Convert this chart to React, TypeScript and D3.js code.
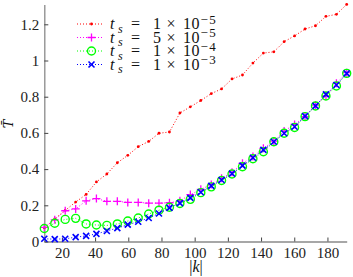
import React, { useRef, useEffect } from 'react';
import * as d3 from 'd3';

// |k| sample positions
const kValues = [9.4, 15.7, 22.0, 28.3, 34.6, 40.8, 47.1, 53.4, 59.7, 66.0, 72.3, 78.5, 84.8, 91.1, 97.4,
  103.7, 110.0, 116.2, 122.5, 128.8, 135.1, 141.4, 147.7, 153.9, 160.2, 166.5, 172.8, 179.1, 185.4, 191.6];

const ts1e5 = [0.075, 0.125, 0.172, 0.218, 0.26, 0.329, 0.373, 0.435, 0.476, 0.524, 0.553, 0.598, 0.605, 0.71, 0.744,
  0.779, 0.817, 0.843, 0.898, 0.92, 0.986, 1.041, 1.048, 1.104, 1.136, 1.174, 1.192, 1.244, 1.255, 1.31];
const ts5e5 = [0.078, 0.12, 0.17, 0.18, 0.225, 0.237, 0.222, 0.222, 0.216, 0.216, 0.212, 0.212, 0.214, 0.225, 0.259,
  0.288, 0.315, 0.349, 0.382, 0.432, 0.469, 0.515, 0.555, 0.61, 0.647, 0.69, 0.754, 0.804, 0.874, 0.933];
const ts1e4 = [0.072, 0.101, 0.122, 0.128, 0.097, 0.091, 0.089, 0.097, 0.113, 0.13, 0.152, 0.173, 0.189, 0.21, 0.233,
  0.27, 0.302, 0.337, 0.373, 0.413, 0.457, 0.496, 0.551, 0.598, 0.63, 0.69, 0.749, 0.804, 0.859, 0.929];
const ts1e3 = [0.015, 0.013, 0.015, 0.024, 0.031, 0.042, 0.058, 0.074, 0.093, 0.109, 0.13, 0.155, 0.186, 0.212, 0.241,
  0.272, 0.307, 0.34, 0.375, 0.419, 0.463, 0.506, 0.551, 0.598, 0.634, 0.693, 0.749, 0.813, 0.865, 0.929];

const xTicks = [20, 40, 60, 80, 100, 120, 140, 160, 180];
const yTicks = [0, 0.2, 0.4, 0.6, 0.8, 1, 1.2];

const legendMantissa = ['1', '5', '1', '1'];
const legendExponent = ['\u22125', '\u22125', '\u22124', '\u22123'];

export default function App() {
  const ref = useRef<SVGSVGElement>(null);

  useEffect(() => {
    const svg = d3.select(ref.current);
    svg.selectAll('*').remove();

    const width = 353;
    const height = 277;
    const font = 'Liberation Serif';

    const x = d3.scaleLinear().domain([kValues[0], kValues[kValues.length - 1]]).range([44.3, 346.7]);
    const y = d3.scaleLinear().domain([0, 1.31]).range([241.5, 4.4]);

    svg.attr('width', width).attr('height', height);
    svg.append('rect').attr('width', width).attr('height', height).attr('fill', 'white');

    // axes (left + bottom only, ticks inward)
    const xAxis = svg.append('g')
      .attr('transform', `translate(0, ${y(0)})`)
      .call(d3.axisBottom(x).tickValues(xTicks).tickSizeInner(-4).tickSizeOuter(0).tickPadding(6).tickFormat(d3.format('d')));
    const yAxis = svg.append('g')
      .attr('transform', `translate(${x.range()[0]}, 0)`)
      .call(d3.axisLeft(y).tickValues(yTicks).tickSizeInner(-4).tickSizeOuter(0).tickPadding(5).tickFormat(d => String(+d)));

    [xAxis, yAxis].forEach(ax => {
      ax.attr('font-family', font).attr('font-size', 15);
      ax.select('.domain').attr('stroke', '#8a8a8a').attr('stroke-width', 1.3);
      ax.selectAll('.tick line').attr('stroke', '#444');
      ax.selectAll('.tick text').attr('fill', '#222');
    });

    const series = [
      { data: ts1e5, color: '#ff0000', marker: 'dot' },
      { data: ts5e5, color: '#ff00ff', marker: 'plus' },
      { data: ts1e4, color: '#00ff00', marker: 'circle' },
      { data: ts1e3, color: '#0000ff', marker: 'cross' },
    ];

    const line = d3.line<number>().x((_, i) => x(kValues[i])).y(d => y(d));

    const drawMarker = (g: any, type: string, color: string) => {
      if (type === 'dot') {
        g.append('circle').attr('r', 1.4).attr('fill', color);
      } else if (type === 'plus') {
        g.append('path').attr('d', 'M-4,0H4M0,-4V4').attr('stroke', color).attr('stroke-width', 1.3);
      } else if (type === 'circle') {
        g.append('circle').attr('r', 4).attr('fill', 'none').attr('stroke', color).attr('stroke-width', 1.4);
      } else {
        g.append('path').attr('d', 'M-3,-3L3,3M-3,3L3,-3').attr('stroke', color).attr('stroke-width', 1.6);
      }
    };

    series.forEach(s => {
      svg.append('path')
        .attr('d', line(s.data))
        .attr('fill', 'none')
        .attr('stroke', s.color)
        .attr('stroke-width', 1)
        .attr('stroke-dasharray', '1,2');
      s.data.forEach((v, i) => {
        const g = svg.append('g').attr('transform', `translate(${x(kValues[i])},${y(v)})`);
        drawMarker(g, s.marker, s.color);
      });
    });

    // legend: one text per entry, math-style pieces as positioned tspans
    const rowY = [24, 37.5, 51, 64.5];
    series.forEach((s, i) => {
      const ly = rowY[i];
      svg.append('line')
        .attr('x1', 77).attr('x2', 103).attr('y1', ly).attr('y2', ly)
        .attr('stroke', s.color).attr('stroke-dasharray', '1,2');
      drawMarker(svg.append('g').attr('transform', `translate(91.5,${ly})`), s.marker, s.color);

      const pieces = [
        { txt: 't', size: 16, dx: 0, dy: 5, italic: true },
        { txt: 's', size: 12, dx: 8, dy: 8.5, italic: true },
        { txt: '=', size: 16, dx: 21, dy: 5, italic: false },
        { txt: legendMantissa[i], size: 16, dx: 43, dy: 5, italic: false },
        { txt: '\u00d7', size: 16, dx: 56.5, dy: 5, italic: false },
        { txt: '10', size: 16, dx: 73, dy: 5, italic: false },
        { txt: legendExponent[i], size: 13, dx: 90.5, dy: -0.5, italic: false },
      ];
      const t = svg.append('text')
        .attr('font-family', font).attr('font-size', 16).attr('fill', '#111');
      pieces.forEach(p => {
        t.append('tspan')
          .attr('x', 110 + p.dx).attr('y', ly + p.dy)
          .attr('font-size', p.size)
          .attr('font-style', p.italic ? 'italic' : 'normal')
          .attr('letter-spacing', p.size === 13 ? 1.5 : 0.5)
          .text(p.txt);
      });
    });

    // axis labels
    svg.append('text')
      .attr('x', 196).attr('y', 272)
      .attr('text-anchor', 'middle')
      .attr('font-family', font).attr('font-size', 16).attr('fill', '#111')
      .html('|<tspan font-style="italic">k</tspan>|');

    svg.append('text')
      .attr('transform', 'translate(13,124) rotate(-90)')
      .attr('text-anchor', 'middle')
      .attr('font-family', 'DejaVu Serif').attr('font-size', 13).attr('font-style', 'italic').attr('fill', '#111')
      .text('T\u0304');
  }, []);

  return <svg ref={ref} style={{ position: 'absolute', left: 0, top: 0 }} />;
}
